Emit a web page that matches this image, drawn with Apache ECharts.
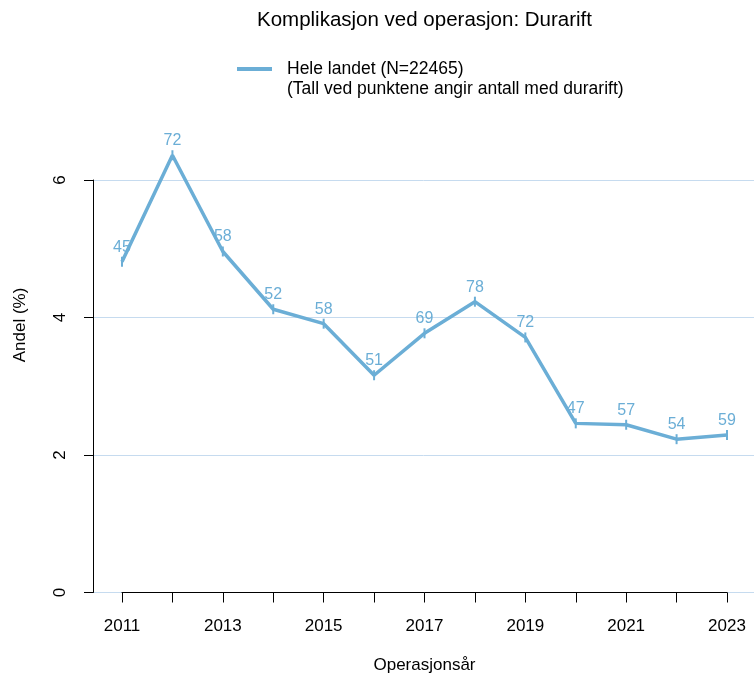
<!DOCTYPE html>
<html>
<head>
<meta charset="utf-8">
<script src="https://cdn.jsdelivr.net/npm/echarts@6/dist/echarts.min.js"></script>
<style>html,body{margin:0;padding:0;background:#fff}#c{width:754px;height:680px}</style>
</head>
<body>
<div id="c"></div>
<script>
var years = [2011, 2012, 2013, 2014, 2015, 2016, 2017, 2018, 2019, 2020, 2021, 2022, 2023];
var andel = [4.81, 6.36, 4.96, 4.12, 3.91, 3.16, 3.77, 4.23, 3.71, 2.46, 2.44, 2.23, 2.29];
var antall = [45, 72, 58, 52, 58, 51, 69, 78, 72, 47, 57, 54, 59];
var yTicks = [0, 2, 4, 6];
var titleText = 'Komplikasjon ved operasjon: Durarift';
var seriesName = 'Hele landet (N=22465)';
var legendNote = '(Tall ved punktene angir antall med durarift)';
var xName = 'Operasjonsår';
var yName = 'Andel (%)';

var FONT = 'Liberation Sans, Arial, sans-serif';
var LINE = '#6baed6';
var GRID = '#c6dbef';

var chart = echarts.init(document.getElementById('c'), null, {renderer: 'canvas'});
var pts = years.map(function (y, i) { return [y, andel[i]]; });

chart.setOption({
  animation: false,
  backgroundColor: '#ffffff',
  textStyle: {fontFamily: FONT},
  legend: {
    left: 237, top: 60, padding: 0,
    icon: 'rect',
    itemWidth: 35, itemHeight: 4,
    textStyle: {fontFamily: FONT, fontSize: 17.5, color: '#000', padding: [0, 0, 0, 10]},
    data: [seriesName]
  },
  graphic: [
    {type: 'text', x: 424.5, y: 20, style: {text: titleText, font: '20.5px ' + FONT, fill: '#000', align: 'center', verticalAlign: 'middle'}},
    {type: 'text', x: 287, y: 89.5, style: {text: legendNote, font: '17.5px ' + FONT, fill: '#000', align: 'left', verticalAlign: 'middle'}},
    {type: 'text', x: 20, y: 325, rotation: Math.PI / 2, style: {text: yName, font: '17px ' + FONT, fill: '#000', align: 'center', verticalAlign: 'middle'}}
  ],
  grid: [
    {left: 93, right: 0, top: 180, bottom: 87.5, outerBoundsMode: 'none', containLabel: false},
    {left: 122, right: 27, top: 180, bottom: 87.5, outerBoundsMode: 'none', containLabel: false}
  ],
  xAxis: [
    {gridIndex: 0, type: 'value', min: 2010.42, max: 2023.54, show: false, splitLine: {show: false}},
    {
      gridIndex: 1, type: 'value', min: 2011, max: 2023, interval: 1,
      name: xName, nameLocation: 'middle', nameGap: 64,
      nameTextStyle: {fontFamily: FONT, fontSize: 17, color: '#000'},
      axisLine: {show: true, onZero: false, lineStyle: {color: '#000', width: 1}},
      axisTick: {show: true, length: 10, lineStyle: {color: '#000'}},
      axisLabel: {
        margin: 25, fontSize: 17, fontFamily: FONT, color: '#000',
        formatter: function (v) { return (v % 2 === 1) ? String(v) : ''; }
      },
      splitLine: {show: false}
    }
  ],
  yAxis: [
    {
      gridIndex: 0, type: 'value', min: yTicks[0], max: yTicks[yTicks.length - 1], interval: 2,
      axisLine: {show: true, lineStyle: {color: '#000', width: 1}},
      axisTick: {show: true, length: 9, lineStyle: {color: '#000'}},
      axisLabel: {rotate: 90, margin: 24, fontSize: 17, fontFamily: FONT, color: '#000'},
      splitLine: {show: true, lineStyle: {color: GRID, width: 1}}
    },
    {gridIndex: 1, type: 'value', min: 0, max: 6, show: false, splitLine: {show: false}}
  ],
  series: [{
    name: seriesName,
    type: 'line',
    xAxisIndex: 1, yAxisIndex: 1,
    data: pts,
    clip: false,
    color: LINE,
    lineStyle: {color: LINE, width: 3.5},
    symbol: 'rect',
    symbolSize: [2, 10],
    itemStyle: {color: LINE},
    label: {
      show: true, position: 'top', distance: 1.5,
      fontSize: 16, fontFamily: FONT, color: LINE,
      formatter: function (p) { return String(antall[p.dataIndex]); }
    },
    z: 5
  }]
});
</script>
</body>
</html>
